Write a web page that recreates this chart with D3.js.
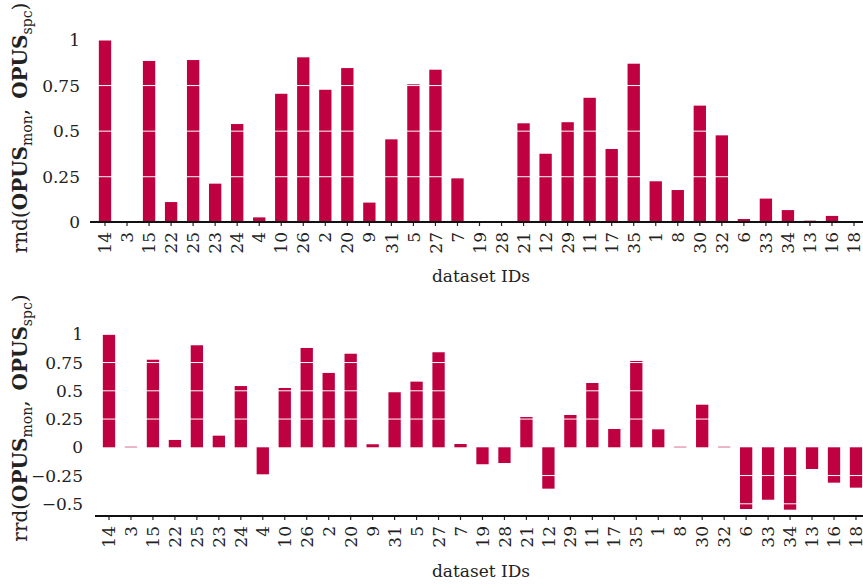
<!DOCTYPE html>
<html>
<head>
<meta charset="utf-8">
<script src="https://cdn.jsdelivr.net/npm/d3@7"></script>
<style>
  body { margin: 0; background: #fff; }
  svg { display: block; font-family: "DejaVu Serif", serif; }
</style>
</head>
<body>
<svg id="chart" width="863" height="584"></svg>
<script>
const ids = ["14","3","15","22","25","23","24","4","10","26","2","20","9","31","5","27","7","19","28","21","12","29","11","17","35","1","8","30","32","6","33","34","13","16","18"];

const rndValues = [1.0,0,0.885,0.111,0.89,0.212,0.539,0.027,0.705,0.905,0.727,0.846,0.108,0.455,0.757,0.837,0.241,0,0,0.543,0.376,0.549,0.683,0.402,0.87,0.225,0.177,0.64,0.477,0.018,0.13,0.067,0.009,0.035,0];

const rrdValues = [1.0,0.005,0.775,0.065,0.903,0.103,0.542,-0.239,0.525,0.879,0.658,0.828,0.027,0.487,0.581,0.841,0.029,-0.15,-0.139,0.268,-0.366,0.286,0.569,0.162,0.764,0.159,0.005,0.377,0.005,-0.546,-0.464,-0.552,-0.192,-0.313,-0.357];

const rndTicks = [0, 0.25, 0.5, 0.75, 1];
const rndTickLabels = ["0", "0.25", "0.5", "0.75", "1"];
const rrdTicks = [-0.5, -0.25, 0, 0.25, 0.5, 0.75, 1];
const rrdTickLabels = ["\u22120.5", "\u22120.25", "0", "0.25", "0.5", "0.75", "1"];

const barColor = "#bf0041";
const svg = d3.select("#chart");

function drawPanel(p) {
  const step = p.step;
  const x = d3.scaleBand()
    .domain(ids)
    .range([p.firstX - step / 2, p.firstX + (ids.length - 0.5) * step])
    .paddingInner(0.44)
    .paddingOuter(0.22);

  const y = d3.scaleLinear()
    .domain([0, 1])
    .range([p.zeroY, p.oneY]);

  const g = svg.append("g");
  const rows = ids.map((id, i) => ({ id, v: p.values[i] }));

  g.selectAll("rect.bar")
    .data(rows.filter(d => d.v !== 0))
    .join("rect")
    .attr("class", "bar")
    .attr("x", d => x(d.id))
    .attr("width", x.bandwidth())
    .attr("y", d => Math.min(y(d.v), y(0)))
    .attr("height", d => Math.abs(y(d.v) - y(0)))
    .attr("fill", barColor);

  // white grid lines over bars
  g.selectAll("line.grid")
    .data(p.ticks.filter(t => t !== 0))
    .join("line")
    .attr("class", "grid")
    .attr("x1", p.axisX0).attr("x2", 863)
    .attr("y1", d => y(d)).attr("y2", d => y(d))
    .attr("stroke", "#fff")
    .attr("stroke-width", 1);

  // y axis labels only
  const yAxis = g.append("g")
    .attr("transform", `translate(${p.yLabelX},0)`)
    .call(d3.axisLeft(y).tickValues(p.ticks).tickSize(0).tickPadding(0)
      .tickFormat((d, i) => p.tickLabels[i]));
  yAxis.select(".domain").remove();
  yAxis.selectAll("text")
    .attr("fill", "#222")
    .style("font-size", "17px")
    .style("font-family", "DejaVu Serif");

  // x axis
  const xAxis = g.append("g")
    .attr("transform", `translate(0,${p.axisY})`)
    .call(d3.axisBottom(x).tickSize(4).tickSizeOuter(0));
  xAxis.select(".domain").remove();
  xAxis.selectAll(".tick line").attr("stroke", "#222").attr("stroke-width", 1.2);
  xAxis.selectAll("text")
    .attr("transform", "rotate(-90)")
    .attr("text-anchor", "end")
    .attr("x", -p.labelGap)
    .attr("y", 0)
    .attr("dy", "0.36em")
    .attr("fill", "#222")
    .style("font-size", "17px")
    .style("font-family", "DejaVu Serif");
  g.append("line")
    .attr("x1", p.axisX0).attr("x2", 863)
    .attr("y1", p.axisY).attr("y2", p.axisY)
    .attr("stroke", "#111")
    .attr("stroke-width", 2);

  g.append("text")
    .attr("x", 481)
    .attr("y", p.xTitleY)
    .attr("text-anchor", "middle")
    .attr("fill", "#222")
    .style("font-size", "17px")
    .text("dataset IDs");

  // rotated y title with bold OPUS and subscripts
  const t = g.append("text")
    .attr("transform", `translate(27,${p.titleCY}) rotate(-90)`)
    .attr("text-anchor", "middle")
    .attr("fill", "#222")
    .style("font-size", "20px");
  t.append("tspan").text(p.fn + "(");
  t.append("tspan").style("font-weight", "bold").text("OPUS");
  t.append("tspan").attr("dy", 5).style("font-size", "14px").text("mon");
  t.append("tspan").attr("dy", -5).text(",\u2002");
  t.append("tspan").style("font-weight", "bold").text("OPUS");
  t.append("tspan").attr("dy", 5).style("font-size", "14px").text("spc");
  t.append("tspan").attr("dy", -5).text(")");
}

drawPanel({
  values: rndValues, ticks: rndTicks, tickLabels: rndTickLabels, fn: "rnd",
  firstX: 105, step: 22.03, zeroY: 222.3, oneY: 40, axisY: 222, axisX0: 90,
  yLabelX: 80, labelGap: 10, xTitleY: 282, titleCY: 128
});

drawPanel({
  values: rrdValues, ticks: rrdTicks, tickLabels: rrdTickLabels, fn: "rrd",
  firstX: 109, step: 21.97, zeroY: 447.3, oneY: 334.3, axisY: 516, axisX0: 95,
  yLabelX: 83, labelGap: 10, xTitleY: 577, titleCY: 418
});
</script>
</body>
</html>
